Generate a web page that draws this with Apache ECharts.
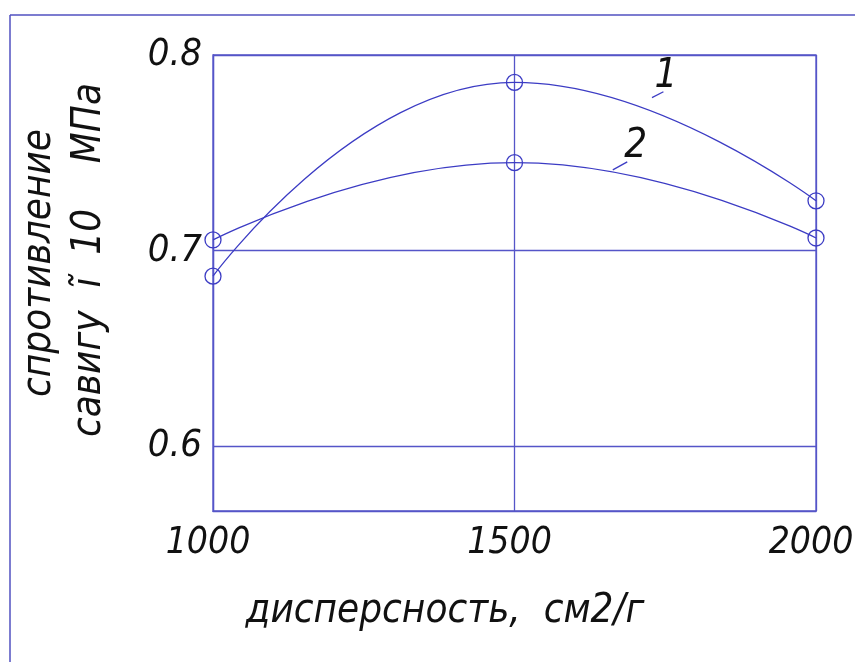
<!DOCTYPE html>
<html>
<head>
<meta charset="utf-8">
<script src="https://cdn.jsdelivr.net/npm/echarts@6/dist/echarts.min.js"></script>
<style>html,body{margin:0;padding:0;background:#fff}#c{width:855px;height:662px}</style>
</head>
<body>
<div id="c"></div>
<script>
const xValues = [1000, 1500, 2000];
const series1 = [0.687, 0.786, 0.7255];
const series2 = [0.7055, 0.745, 0.7065];
const yTicks = [0.6, 0.7, 0.8];
const xTicks = [1000, 1500, 2000];
const yTitle = ['спротивление', 'савигу  ĩ  10    МПа'];
const xTitle = 'дисперсность,  см2/г';
const curveNames = ['1', '2'];

const FONT = '"Liberation Sans Narrow", "DejaVu Sans Condensed", sans-serif';
const BLUE = '#3c3cc4';
const GRIDC = '#5555c8';

const chart = echarts.init(document.getElementById('c'), null, {renderer: 'canvas'});
const textStyle = {fontFamily: FONT, fontStyle: 'italic', color: '#111'};

function mkSeries(name, vals, annot, leader) {
  return {
    name: name, type: 'line', smooth: 0.5,
    data: xValues.map((x, i) => [x, vals[i]]),
    symbol: 'circle', symbolSize: 16,
    lineStyle: {color: BLUE, width: 1.3},
    itemStyle: {color: 'rgba(0,0,0,0)', borderColor: BLUE, borderWidth: 1.3},
    emphasis: {disabled: true},
    markLine: {
      silent: true, symbol: 'none', animation: false,
      lineStyle: {color: BLUE, width: 1.3, type: 'solid'},
      label: {show: false},
      data: [[{coord: leader[0]}, {coord: leader[1]}]]
    },
    markPoint: {
      silent: true, symbol: 'circle', symbolSize: 1, animation: false,
      itemStyle: {color: 'rgba(0,0,0,0)'},
      label: {show: true, position: 'inside', formatter: name, fontSize: 40, ...textStyle},
      data: [{coord: annot}]
    }
  };
}

chart.setOption({
  animation: false,
  grid: {left: 213, top: 55, right: 39, bottom: 151, show: true, borderColor: GRIDC, borderWidth: 1.3,
         containLabel: false, outerBoundsMode: 'none'},
  xAxis: {
    type: 'value', min: 1000, max: 2000, interval: 500,
    axisLine: {show: true, lineStyle: {color: GRIDC, width: 1.3}},
    axisTick: {show: false},
    splitLine: {show: true, lineStyle: {color: GRIDC, width: 1.3}},
    axisLabel: {margin: 14, fontSize: 37, ...textStyle, customValues: xTicks, padding: [0, 10, 0, 0], formatter: v => String(v)}
  },
  yAxis: {
    type: 'value', min: 0.567, max: 0.8,
    axisLine: {show: true, lineStyle: {color: GRIDC, width: 1.3}},
    axisTick: {show: false, customValues: yTicks},
    splitLine: {show: true, lineStyle: {color: GRIDC, width: 1.3}},
    axisLabel: {margin: 11, fontSize: 38, ...textStyle, customValues: yTicks, padding: [0, 0, 8, 0], formatter: v => v.toFixed(1)}
  },
  series: [
    mkSeries(curveNames[0], series1, [1751, 0.7888], [[1728, 0.7782], [1747, 0.7812]]),
    mkSeries(curveNames[1], series2, [1701, 0.7531], [[1663, 0.7413], [1687, 0.7454]])
  ],
  graphic: [
    {type: 'line', shape: {x1: 10, y1: 15, x2: 855, y2: 15}, style: {stroke: '#5050c0', lineWidth: 1.5}},
    {type: 'line', shape: {x1: 10, y1: 15, x2: 10, y2: 662}, style: {stroke: '#5050c0', lineWidth: 1.5}},
    {type: 'text', x: 40, y: 263, rotation: Math.PI / 2,
      style: {text: yTitle[0], font: 'italic 40px ' + FONT, fill: '#111', align: 'center', verticalAlign: 'middle'}},
    {type: 'text', x: 90, y: 260, rotation: Math.PI / 2,
      style: {text: yTitle[1], font: 'italic 40px ' + FONT, fill: '#111', align: 'center', verticalAlign: 'middle'}},
    {type: 'text', x: 445, y: 612,
      style: {text: xTitle, font: 'italic 40px ' + FONT, fill: '#111', align: 'center', verticalAlign: 'middle'}}
  ]
});
</script>
</body>
</html>
